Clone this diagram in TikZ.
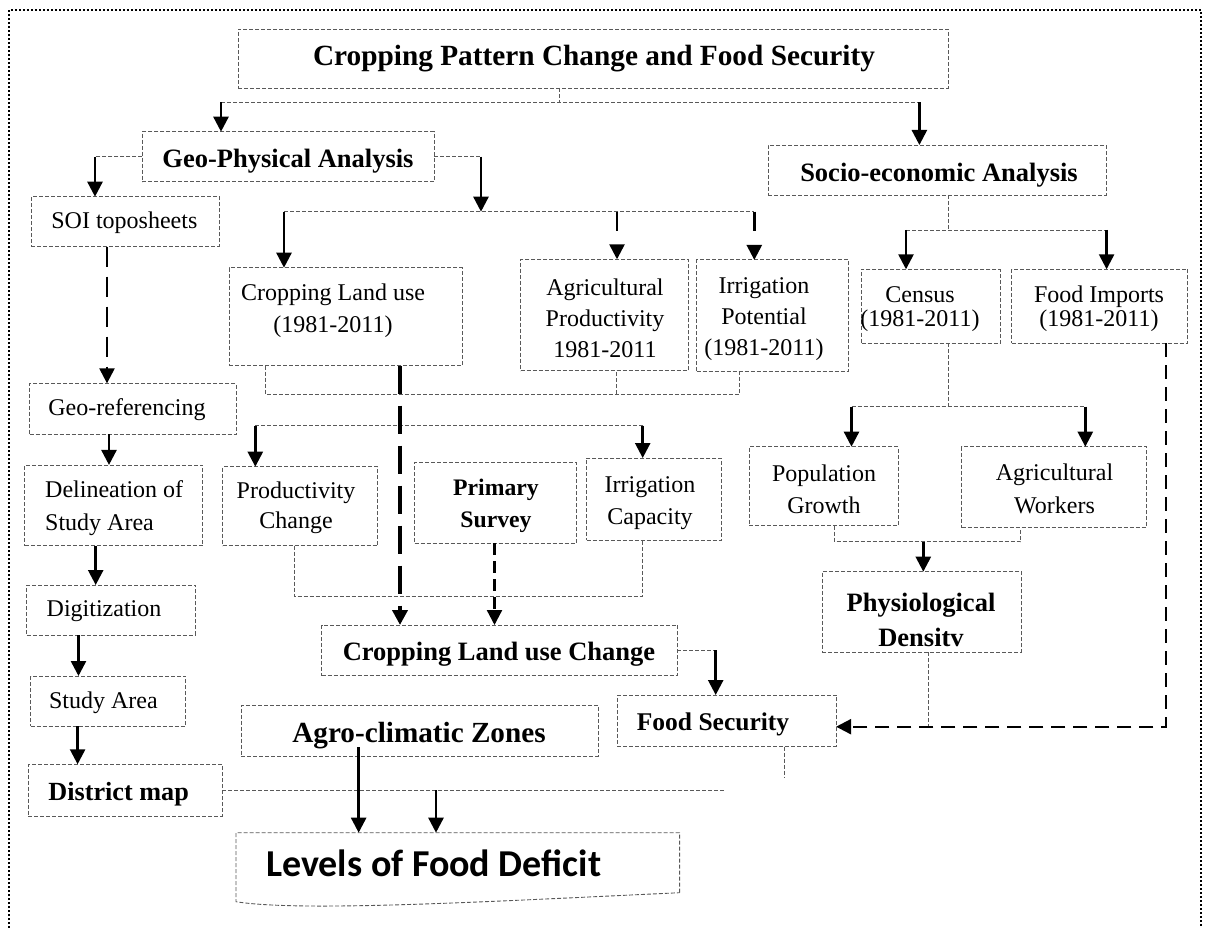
\documentclass[tikz,border=0pt]{standalone}
\usepackage{fontspec}
\setmainfont{Liberation Serif}
\newfontfamily\levfont{Carlito}
\usetikzlibrary{arrows.meta}
\begin{document}
\begin{tikzpicture}[x=1pt,y=-1pt,
  box/.style={draw=black!65, line width=0.9pt, dash pattern=on 4pt off 2pt, inner sep=0pt, outer sep=0pt},
  conn/.style={draw=black!65, line width=0.9pt, dash pattern=on 4pt off 2pt},
  rtxt/.style={font=\fontsize{24}{32}\selectfont, align=center, inner sep=0pt},
  ctxt/.style={font=\fontsize{24}{24}\selectfont, align=center, inner sep=0pt},
  btxt/.style={font=\fontsize{26.5}{35}\selectfont\bfseries, align=center, inner sep=0pt},
  arr/.style={draw=black, line width=2.5pt, -{Triangle[length=15pt,width=15pt]}},
  arrgap/.style={arr, dash pattern=on 19pt off 40pt},
  longarr/.style={arr, line width=2.3pt, dash pattern=on 20pt off 10pt},
  fatarr/.style={arr, line width=4pt, dash pattern=on 28pt off 12pt},
  midarr/.style={arr, line width=2.3pt, dash pattern=on 12pt off 6pt},
  farr/.style={arr, line width=2.3pt, dash pattern=on 14pt off 8pt},
  outl/.style={draw=black!65, line width=0.9pt, dash pattern=on 4pt off 2pt}
]
\useasboundingbox (0,0) rectangle (1205,928);
% outer dotted frame (open at bottom)
\draw[line width=2pt, dash pattern=on 2pt off 2pt] (9,940) -- (9,10) -- (1201,10) -- (1201,940);

% ---------- boxes ----------
\node[box, minimum width=710pt, minimum height=59pt] (title) at (593,58.5) {};
\node[font=\fontsize{29.3}{35}\selectfont\bfseries, inner sep=0pt, anchor=base] (title-t) at (594,65.5) {Cropping Pattern Change and Food Security};

\node[box, minimum width=292pt, minimum height=50pt] (geo) at (288.4,156.7) {};
\node[btxt, anchor=base] (geo-t) at (288,167.3) {Geo-Physical Analysis};

\node[box, minimum width=338pt, minimum height=50pt] (socio) at (937,170) {};
\node[btxt, anchor=base] (socio-t) at (939,181.7) {Socio-economic Analysis};

\node[box, minimum width=187.6pt, minimum height=50pt] (soi) at (125.2,221.7) {};
\node[rtxt, anchor=base] (soi-t) at (124.4,228.3) {SOI toposheets};

\node[box, minimum width=233pt, minimum height=98pt] (clu) at (345.5,316.7) {};
\node[rtxt] (clu-t) at (333,310.7) {Cropping Land use\\(1981-2011)};

\node[box, minimum width=167.6pt, minimum height=111.4pt] (agprod) at (604.5,315) {};
\node[rtxt, font=\fontsize{24}{31}\selectfont] (agprod-t) at (605,318.7) {Agricultural\\Productivity\\1981-2011};

\node[box, minimum width=151.6pt, minimum height=111.7pt] (irrpot) at (772.5,315.8) {};
\node[rtxt, font=\fontsize{24}{31}\selectfont] (irrpot-t) at (764,318.7) {Irrigation\\Potential\\(1981-2011)};

\node[box, minimum width=138.4pt, minimum height=74pt] (census) at (930.8,306.3) {};
\node[ctxt] (census-t) at (920,309.2) {Census\\(1981-2011)};

\node[box, minimum width=176pt, minimum height=74pt] (fi) at (1099.6,306.3) {};
\node[ctxt] (fi-t) at (1099,309.2) {Food Imports\\(1981-2011)};

\node[box, minimum width=206.5pt, minimum height=50.7pt] (georef) at (132.75,408.7) {};
\node[rtxt, anchor=base] (georef-t) at (127,415) {Geo-referencing};

\node[box, minimum width=178pt, minimum height=80.7pt] (delin) at (113.85,505.3) {};
\node[rtxt, align=left, font=\fontsize{24}{33}\selectfont, anchor=west] (delin-t) at (45,507.8) {Delineation of\\Study Area};

\node[box, minimum width=155pt, minimum height=79pt] (prod) at (300.2,506.2) {};
\node[rtxt, font=\fontsize{24}{30}\selectfont] (prod-t) at (296,507.8) {Productivity\\Change};

\node[box, minimum width=161.5pt, minimum height=81pt] (primary) at (495.25,502.8) {};
\node[font=\fontsize{23.7}{32.7}\selectfont\bfseries, align=center, inner sep=0pt] (primary-t) at (496,505.8) {Primary\\Survey};

\node[box, minimum width=134.8pt, minimum height=82pt] (irrcap) at (654.1,499) {};
\node[rtxt, font=\fontsize{24}{32.7}\selectfont] (irrcap-t) at (650,503.2) {Irrigation\\Capacity};

\node[box, minimum width=148.9pt, minimum height=79pt] (pop) at (823.75,486.2) {};
\node[rtxt, font=\fontsize{24}{32.4}\selectfont] (pop-t) at (824,489) {Population\\Growth};

\node[box, minimum width=184.5pt, minimum height=81pt] (agw) at (1053.75,487.2) {};
\node[rtxt, font=\fontsize{24}{32.4}\selectfont] (agw-t) at (1054.5,489) {Agricultural\\Workers};

\node[box, minimum width=168.4pt, minimum height=50pt] (digit) at (111,610) {};
\node[rtxt, anchor=base] (digit-t) at (104,616.7) {Digitization};

\node[box, minimum width=199.1pt, minimum height=80.6pt] (physio) at (921.75,612) {};
\node[btxt] (physio-t) at (921,619.7) {Physiological\\Densitv};

\node[box, minimum width=355.7pt, minimum height=50.7pt] (cluc) at (499.35,650.35) {};
\node[btxt, anchor=base] (cluc-t) at (499,660) {Cropping Land use Change};

\node[box, minimum width=155pt, minimum height=50pt] (study) at (108.1,701) {};
\node[rtxt, anchor=base] (study-t) at (103.4,708.3) {Study Area};

\node[box, minimum width=218.7pt, minimum height=51.7pt] (foodsec) at (726.75,720.85) {};
\node[font=\fontsize{25.5}{30}\selectfont\bfseries, inner sep=0pt, anchor=base] (foodsec-t) at (713,730) {Food Security};

\node[box, minimum width=356.7pt, minimum height=51pt] (agro) at (419.65,730.5) {};
\node[font=\fontsize{29.2}{35}\selectfont\bfseries, inner sep=0pt, anchor=base] (agro-t) at (419,742.7) {Agro-climatic Zones};

\node[box, minimum width=194pt, minimum height=51.7pt] (district) at (125,790.15) {};
\node[font=\fontsize{26.2}{30}\selectfont\bfseries, inner sep=0pt, anchor=base] (district-t) at (118.6,800) {District map};

% Levels of Food Deficit (document shape)
\node[inner sep=0pt, outer sep=0pt, minimum width=443.6pt, minimum height=60pt] (levels) at (457.8,862.7) {};
\draw[outl] (679.6,892.7) -- (679.6,832.7) -- (236,832.7) -- (236,901.7)
   .. controls (300,912) and (480,902) .. (679.6,892.7);
\node[font=\fontsize{38}{44}\selectfont\levfont\bfseries, inner sep=0pt, anchor=base] (levels-t) at (433.7,876.7) {Levels of Food Deficit};

% ---------- connectors ----------
% title
\coordinate (jt) at (559.5,102.3);
\coordinate (jl1) at (221,102.3);
\coordinate (jr1) at (919.4,102.3);
\draw[conn] (title.south -| jt) -- (jt);
\draw[conn] (jl1) -- (jr1);
\draw[arr] (jl1) -- (jl1 |- geo.north);
\draw[arr] (jr1) -- (jr1 |- socio.north);

% geo-physical
\coordinate (gl) at (95,156.7);
\coordinate (gr) at (481,156.7);
\coordinate (gb) at (481,211.7);
\draw[conn] (geo.west) -- (gl);
\draw[arr] (gl) -- (gl |- soi.north);
\draw[conn] (geo.east) -- (gr);
\draw[arr] (gr) -- (gb);
\coordinate (gb1) at (284,211.7);
\coordinate (gb2) at (617,211.7);
\coordinate (gb3) at (754.3,211.7);
\draw[conn] (gb1) -- (gb3);
\draw[arr] (gb1) -- (gb1 |- clu.north);
\draw[arrgap] (gb2) -- (gb2 |- agprod.north);
\draw[arrgap] (gb3) -- (gb3 |- irrpot.north);

% socio-economic
\coordinate (sj) at (948.4,230);
\coordinate (sl) at (906,230);
\coordinate (sr) at (1106.6,230);
\draw[conn] (socio.south -| sj) -- (sj);
\draw[conn] (sl) -- (sr);
\draw[arr] (sl) -- (sl |- census.north);
\draw[arr] (sr) -- (sr |- fi.north);

% join below CLU / AgProd / IrrPot
\coordinate (c1) at (265.2,394);
\coordinate (c2) at (616.2,394);
\coordinate (c3) at (739.7,394);
\draw[conn] (clu.south -| c1) -- (c1) -- (c3) -- (irrpot.south -| c3);
\draw[conn] (c2) -- (agprod.south -| c2);

% second branch
\coordinate (b1) at (255.3,425.7);
\coordinate (b2) at (642.7,425.7);
\draw[conn] (b1) -- (b2);
\draw[arr] (b1) -- (b1 |- prod.north);
\draw[arr] (b2) -- (b2 |- irrcap.north);

% CLU -> CLUC, Primary -> CLUC
\coordinate (cv) at (400,0);
\draw[fatarr] (clu.south -| cv) -- (cluc.north -| cv);
\coordinate (pv) at (494.5,0);
\draw[midarr] (primary.south -| pv) -- (cluc.north -| pv);

% join below Productivity / Irrigation Capacity
\coordinate (p1) at (294,596);
\coordinate (p2) at (642.4,596);
\draw[conn] (prod.south -| p1) -- (p1) -- (p2) -- (irrcap.south -| p2);

% census branch
\coordinate (cj) at (948.4,406.7);
\coordinate (cl) at (851.5,406.7);
\coordinate (cr) at (1085.3,406.7);
\draw[conn] (census.south -| cj) -- (cj);
\draw[conn] (cl) -- (cr);
\draw[arr] (cl) -- (cl |- pop.north);
\draw[arr] (cr) -- (cr |- agw.north);

% population / workers -> physiological density
\coordinate (q1) at (834.6,541.7);
\coordinate (q2) at (1020.5,541.7);
\coordinate (qm) at (923.3,541.7);
\draw[conn] (pop.south -| q1) -- (q1) -- (q2) -- (agw.south -| q2);
\draw[arr] (qm) -- (qm |- physio.north);

% physio -> food imports line
\coordinate (fj) at (928,726.7);
\draw[conn] (physio.south -| fj) -- (fj);

% food imports -> food security
\coordinate (fc) at (1166,726.7);
\draw[farr] (fi.south -| fc) -- (fc) -- (foodsec.east |- fc);

% CLUC -> food security
\coordinate (cc) at (715.7,650.35);
\draw[conn] (cluc.east) -- (cc);
\draw[arr] (cc) -- (cc |- foodsec.north);

% food security dangling tick
\coordinate (ft) at (784,778);
\draw[conn] (foodsec.south -| ft) -- (ft);

% left column
\draw[longarr] ([xshift=-18.2pt]soi.south) -- ([xshift=-18.2pt]soi.south |- georef.north);
\draw[arr] ([xshift=-23.75pt]georef.south) -- ([xshift=-23.75pt]georef.south |- delin.north);
\draw[arr] ([xshift=-18.15pt]delin.south) -- ([xshift=-18.15pt]delin.south |- digit.north);
\draw[arr] ([xshift=-32.5pt]digit.south) -- ([xshift=-32.5pt]digit.south |- study.north);
\draw[arr] ([xshift=-30.5pt]study.south) -- ([xshift=-30.5pt]study.south |- district.north);

% district -> levels, agro -> levels
\coordinate (de) at (724.5,790.15);
\coordinate (dj) at (436,790.15);
\draw[conn] (district.east) -- (de);
\draw[arr] (dj) -- (dj |- levels.north);
\draw[arr] ([xshift=-61pt,yshift=9pt]agro.south) -- ([xshift=-61pt]agro.south |- levels.north);
\end{tikzpicture}
\end{document}
